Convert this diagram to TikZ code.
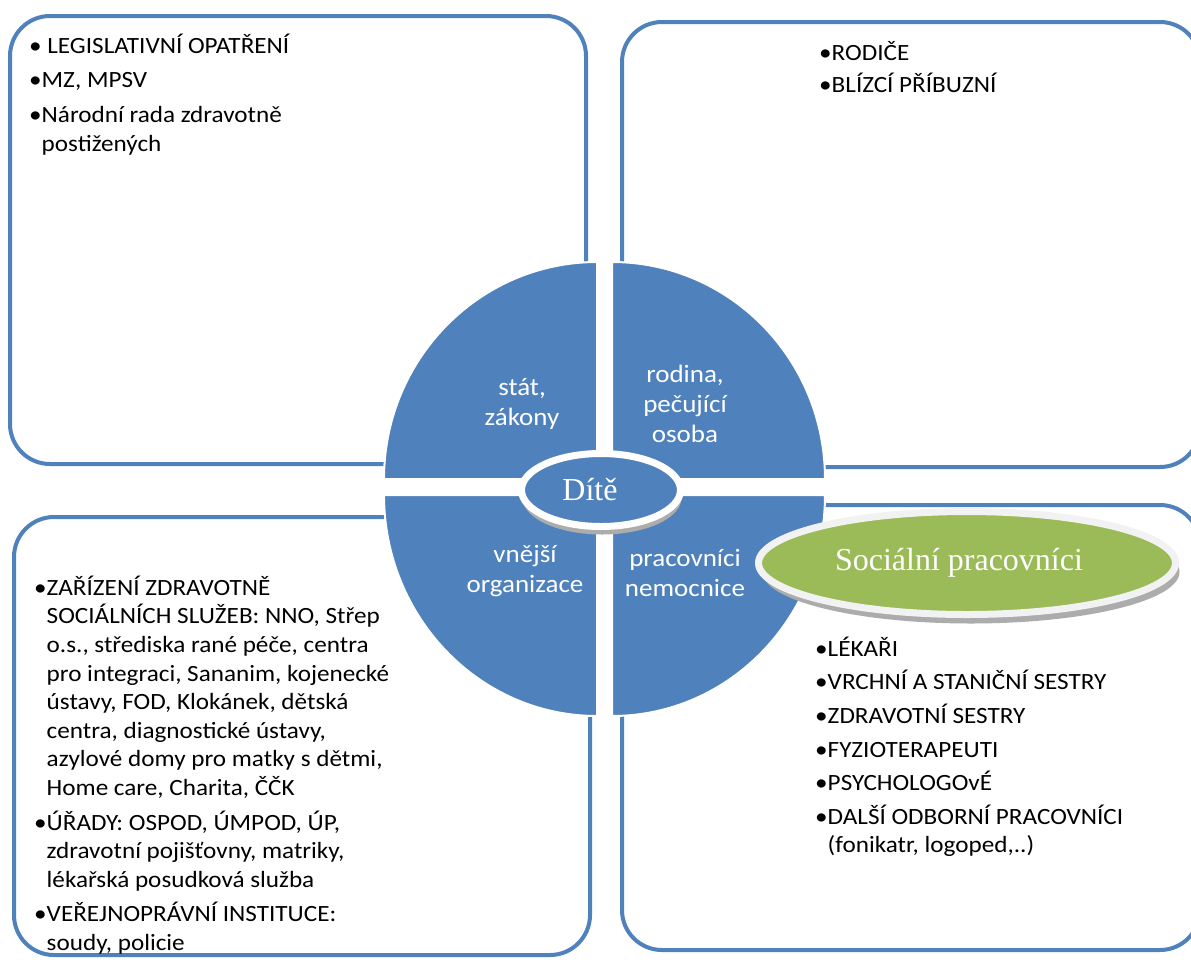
\documentclass[tikz,border=0pt]{standalone}
\usepackage{fontspec}
\usetikzlibrary{shapes.geometric,shadows}
\newfontfamily\calibrifont[FakeStretch=1.08]{Carlito}
\newfontfamily\seriffont{Liberation Serif}
\definecolor{accentblue}{RGB}{79,129,189}
\definecolor{accentgreen}{RGB}{155,187,89}
\definecolor{rimgrey}{RGB}{242,242,242}
\definecolor{bevelgrey}{RGB}{172,172,172}
\tikzset{
  panel/.style={draw=accentblue, line width=4pt, rounded corners=40pt, fill=white},
  sector/.style={fill=accentblue, draw=white, line width=2pt},
  listtext/.style={anchor=north west, inner sep=0pt, align=left, text=black,
    font=\calibrifont\fontsize{23.3}{28.6}\selectfont},
  sectortext/.style={inner sep=0pt, align=center, text=white,
    font=\calibrifont\fontsize{25}{30}\selectfont},
  hub/.style={ellipse, inner sep=0pt, line width=7pt, text=white},
}
\begin{document}
\begin{tikzpicture}[x=1pt,y=-1pt]
\useasboundingbox (0,0) rectangle (1191,959);
\fill[white] (0,0) rectangle (1191,959);

% four rounded panels
\draw[panel] (10,16) rectangle (586,464);
\draw[panel] (622,22) rectangle (1200,467);
\draw[panel] (14,517) rectangle (590,955);
\draw[panel] (622,505) rectangle (1200,950);

% the four quarter discs around the centre
\path[sector] (597,479) -- (384,479) arc[start angle=180, end angle=270, x radius=213, y radius=217] -- cycle;
\path[sector] (612,479) -- (825,479) arc[start angle=0, end angle=-90, x radius=213, y radius=217] -- cycle;
\path[sector] (597,495) -- (384,495) arc[start angle=180, end angle=90, x radius=213, y radius=221] -- cycle;
\path[sector] (612,495) -- (825,495) arc[start angle=0, end angle=90, x radius=213, y radius=221] -- cycle;

% sector captions
\node[sectortext] (state)    at (522,404) {\strut stát,\\\strut zákony};
\node[sectortext] (family)   at (685,406) {\strut rodina,\\\strut pečující\\\strut osoba};
\node[sectortext] (external) at (525,571) {\strut vnější\\\strut organizace};
\node[sectortext] (hospital) at (685,575) {\strut pracovníci\\\strut nemocnice};

% central ellipse
\node[hub, fill=accentblue, draw=white, minimum width=159pt, minimum height=73pt,
      drop shadow={shadow xshift=1pt, shadow yshift=-8pt, fill=bevelgrey, opacity=1},
      font=\seriffont\fontsize{32}{36}\selectfont] (child) at (601,490) {\hspace*{-22pt}Dítě};

% social workers ellipse
\node[hub, fill=accentgreen, draw=rimgrey, minimum width=417pt, minimum height=103pt,
      drop shadow={shadow xshift=4pt, shadow yshift=-9pt, fill=bevelgrey, opacity=1},
      font=\seriffont\fontsize{32}{37}\selectfont] (social) at (967,563) {\hspace*{-16pt}\raisebox{4pt}{Sociální pracovníci}};

% panel lists
\node[listtext] (statelist) at (29,33) {%
\strut• LEGISLATIVNÍ OPATŘENÍ\\[6pt]
\strut•MZ, MPSV\\[6pt]
\strut•Národní rada zdravotně\\
\strut\hphantom{•}postižených};

\node[listtext] (familylist) at (819,40) {%
\strut•RODIČE\\[4pt]
\strut•BLÍZCÍ PŘÍBUZNÍ};

\node[listtext] (externallist) at (34,575) {%
\strut•ZAŘÍZENÍ ZDRAVOTNĚ\\
\strut\hphantom{•}SOCIÁLNÍCH SLUŽEB: NNO, Střep\\
\strut\hphantom{•}o.s., střediska rané péče, centra\\
\strut\hphantom{•}pro integraci, Sananim, kojenecké\\
\strut\hphantom{•}ústavy, FOD, Klokánek, dětská\\
\strut\hphantom{•}centra, diagnostické ústavy,\\
\strut\hphantom{•}azylové domy pro matky s dětmi,\\
\strut\hphantom{•}Home care, Charita, ČČK\\[6pt]
\strut•ÚŘADY: OSPOD, ÚMPOD, ÚP,\\
\strut\hphantom{•}zdravotní pojišťovny, matriky,\\
\strut\hphantom{•}lékařská posudková služba\\[6pt]
\strut•VEŘEJNOPRÁVNÍ INSTITUCE:\\
\strut\hphantom{•}soudy, policie};

\node[listtext] (hospitallist) at (815,636) {%
\strut•LÉKAŘI\\[5pt]
\strut•VRCHNÍ A STANIČNÍ SESTRY\\[5pt]
\strut•ZDRAVOTNÍ SESTRY\\[5pt]
\strut•FYZIOTERAPEUTI\\[5pt]
\strut•PSYCHOLOGOvÉ\\[5pt]
\strut•DALŠÍ ODBORNÍ PRACOVNÍCI\\
\strut\hphantom{•}(fonikatr, logoped,..)};
\end{tikzpicture}
\end{document}
